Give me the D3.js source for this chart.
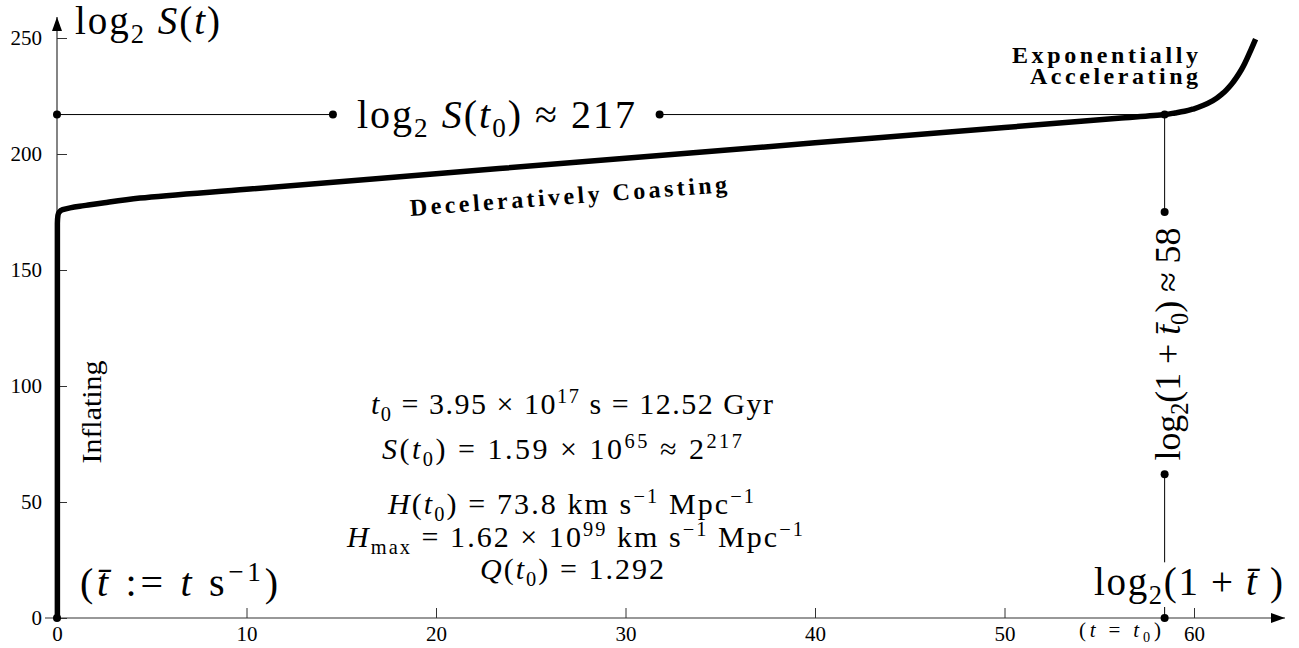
<!DOCTYPE html>
<html>
<head>
<meta charset="utf-8">
<script src="https://cdn.jsdelivr.net/npm/d3@7"></script>
<style>
  body { margin: 0; background: #fff; }
  svg text { font-family: "Liberation Serif", "DejaVu Serif", serif !important; white-space: pre; }
</style>
</head>
<body>
<svg id="chart"></svg>
<script>
// Tick values
const ticksX = [0, 10, 20, 30, 40, 50, 60];
const ticksY = [0, 50, 100, 150, 200, 250];

// log2(1 + t) against log2 S(t)
const curveX = [0.02, 0.02, 0.05, 0.12, 0.3, 0.69, 1.2, 1.74, 2.5, 4.38, 10, 20, 30, 40, 50, 56, 58.45, 59, 59.5, 60, 60.5, 61, 61.5, 62, 62.5, 63, 63.25];
const curveY = [0, 170, 173.6, 175, 176, 176.8, 177.5, 178.1, 179, 181, 184.8, 191.5, 198.2, 204.8, 211.4, 215.4, 217, 217.7, 218.4, 219.5, 221, 223, 226, 230.3, 236.3, 244.8, 249.5];

// Present-day marker and where the guide lines break for their labels
const t0X = 58.45;
const logS0 = 217;
const hBreaks = [14.56, 31.8];
const vBreaks = [175, 62];
const vEnd = 24;

const width = 1299;
const height = 648;

const svg = d3.select('#chart')
    .attr('width', width)
    .attr('height', height);

const x = d3.scaleLinear().domain([0, 64]).range([57, 1269.8]);
const y = d3.scaleLinear().domain([0, 250]).range([618, 38]);

// arrow heads
svg.append('defs').append('marker')
    .attr('id', 'arrow')
    .attr('viewBox', '0 0 14 10')
    .attr('refX', 14).attr('refY', 5)
    .attr('markerWidth', 14).attr('markerHeight', 10)
    .attr('markerUnits', 'userSpaceOnUse')
    .attr('orient', 'auto')
  .append('path')
    .attr('d', 'M0,0 L14,5 L0,10 Z')
    .attr('fill', '#000');

// axes lines
svg.append('line')
    .attr('x1', 45).attr('x2', 1285)
    .attr('y1', y(0)).attr('y2', y(0))
    .attr('stroke', '#333').attr('stroke-width', 1.2)
    .attr('marker-end', 'url(#arrow)');
svg.append('line')
    .attr('x1', x(0)).attr('x2', x(0))
    .attr('y1', y(0)).attr('y2', 17)
    .attr('stroke', '#333').attr('stroke-width', 1.2)
    .attr('marker-end', 'url(#arrow)');

const xAxis = svg.append('g')
    .attr('transform', 'translate(0,' + y(0) + ')')
    .call(d3.axisBottom(x).tickValues(ticksX).tickSize(-10).tickPadding(5));
const yAxis = svg.append('g')
    .attr('transform', 'translate(' + x(0) + ',0)')
    .call(d3.axisLeft(y).tickValues(ticksY).tickSize(-10).tickPadding(15));

[xAxis, yAxis].forEach(a => {
    a.select('.domain').remove();
    a.selectAll('line').attr('stroke', '#333');
    a.selectAll('text')
        .attr('font-size', 21)
        .attr('fill', '#000');
});
xAxis.selectAll('text').attr('dy', '0.85em');

// guide lines
const guide = svg.append('g').attr('stroke', '#000').attr('stroke-width', 1);
guide.append('line')
    .attr('x1', x(0)).attr('x2', x(hBreaks[0]))
    .attr('y1', y(logS0)).attr('y2', y(logS0));
guide.append('line')
    .attr('x1', x(hBreaks[1])).attr('x2', x(t0X))
    .attr('y1', y(logS0)).attr('y2', y(logS0));
guide.append('line')
    .attr('x1', x(t0X)).attr('x2', x(t0X))
    .attr('y1', y(logS0)).attr('y2', y(vBreaks[0]));
guide.append('line')
    .attr('x1', x(t0X)).attr('x2', x(t0X))
    .attr('y1', y(vBreaks[1])).attr('y2', y(vEnd));
guide.append('line')
    .attr('x1', x(t0X)).attr('x2', x(t0X))
    .attr('y1', y(0)).attr('y2', y(0) - 11);

// the curve
const line = d3.line()
    .x(d => x(d[0]))
    .y(d => y(d[1]))
    .curve(d3.curveMonotoneY);

svg.append('path')
    .datum(d3.zip(curveX, curveY))
    .attr('d', line)
    .attr('fill', 'none')
    .attr('stroke', '#000')
    .attr('stroke-width', 5.5)
    .attr('stroke-linejoin', 'round');

// dots
const dots = [
    [0, 0], [0, logS0], [hBreaks[0], logS0], [hBreaks[1], logS0], [t0X, logS0],
    [t0X, vBreaks[0]], [t0X, vBreaks[1]], [t0X, 0]
];
svg.selectAll('circle.dot')
    .data(dots)
    .enter()
    .append('circle')
    .attr('class', 'dot')
    .attr('cx', d => x(d[0]))
    .attr('cy', d => y(d[1]))
    .attr('r', 4)
    .attr('fill', '#000');

// math-ish text made of tspans: r roman, i italic, sub, subi, sup
function math(parent, parts, size, len) {
    const t = parent.append('text').attr('font-size', size).attr('fill', '#000');
    let shift = 0;
    parts.forEach(([s, k]) => {
        const target = k.startsWith('sub') ? 0.22 * size : k.startsWith('sup') ? -0.38 * size : 0;
        const ts = t.append('tspan').text(s).attr('dy', target - shift);
        shift = target;
        if (k.includes('i')) ts.attr('font-style', 'italic');
        if (k.startsWith('sub') || k.startsWith('sup')) ts.attr('font-size', size * 0.68);
    });
    if (len) t.attr('textLength', len).attr('lengthAdjust', 'spacing');
    return t;
}

math(svg, [['log', 'r'], ['2', 'sub'], [' ', 'r'], ['S', 'i'], ['(', 'r'], ['t', 'i'], [')', 'r']], 39, 145)
    .attr('x', 75).attr('y', 34);

math(svg, [['log', 'r'], ['2', 'sub'], [' ', 'r'], ['S', 'i'], ['(', 'r'], ['t', 'i'], ['0', 'sub'], [') ≈ 217', 'r']], 40, 278)
    .attr('x', 496).attr('y', 128).attr('text-anchor', 'middle');

math(svg, [['log', 'r'], ['2', 'sub'], ['(1 + ', 'r'], ['t̄', 'i'], ['0', 'sub'], [') ≈ 58', 'r']], 36, 233)
    .attr('text-anchor', 'middle')
    .attr('transform', 'translate(1180,344) rotate(-90)');

math(svg, [['log', 'r'], ['2', 'sub'], ['(1 + ', 'r'], ['t̄', 'i'], [' )', 'r']], 39, 189)
    .attr('x', 1283).attr('y', 595).attr('text-anchor', 'end');

math(svg, [['(', 'r'], ['t̄', 'i'], [' := ', 'r'], ['t', 'i'], [' s', 'r'], ['−1', 'sup'], [')', 'r']], 40, 198)
    .attr('x', 80).attr('y', 596);

math(svg, [['(', 'r'], ['t', 'i'], [' = ', 'r'], ['t', 'i'], ['0', 'sub'], [')', 'r']], 21, 82)
    .attr('x', 1079).attr('y', 637);

// centre block: parts, baseline, centre x, width
const info = [
    [[['t', 'i'], ['0', 'sub'], [' = 3.95 × 10', 'r'], ['17', 'sup'], [' s = 12.52 Gyr', 'r']], 414, 572, 402],
    [[['S', 'i'], ['(', 'r'], ['t', 'i'], ['0', 'sub'], [') = 1.59 × 10', 'r'], ['65', 'sup'], [' ≈ 2', 'r'], ['217', 'sup']], 459, 562, 360],
    [[['H', 'i'], ['(', 'r'], ['t', 'i'], ['0', 'sub'], [') = 73.8 km s', 'r'], ['−1', 'sup'], [' Mpc', 'r'], ['−1', 'sup']], 514, 571, 366],
    [[['H', 'i'], ['max', 'sub'], [' = 1.62 × 10', 'r'], ['99', 'sup'], [' km s', 'r'], ['−1', 'sup'], [' Mpc', 'r'], ['−1', 'sup']], 547, 575, 456],
    [[['Q', 'i'], ['(', 'r'], ['t', 'i'], ['0', 'sub'], [') = 1.292', 'r']], 579, 572, 184]
];
info.forEach(([parts, yy, cx, len]) => {
    math(svg, parts, 30, len).attr('x', cx).attr('y', yy).attr('text-anchor', 'middle');
});

// era labels
svg.append('text')
    .attr('transform', 'translate(101,412) rotate(-90)')
    .attr('text-anchor', 'middle')
    .attr('font-size', 27)
    .attr('textLength', 103).attr('lengthAdjust', 'spacingAndGlyphs')
    .text('Inflating');

svg.append('text')
    .attr('transform', 'translate(569,204) rotate(-4.3)')
    .attr('text-anchor', 'middle')
    .attr('font-size', 24).attr('font-weight', 'bold')
    .attr('textLength', 318).attr('lengthAdjust', 'spacing')
    .text('Deceleratively Coasting');

svg.append('text')
    .attr('x', 1198).attr('y', 63)
    .attr('text-anchor', 'end')
    .attr('font-size', 24).attr('font-weight', 'bold')
    .attr('textLength', 186).attr('lengthAdjust', 'spacing')
    .text('Exponentially');
svg.append('text')
    .attr('x', 1198).attr('y', 84)
    .attr('text-anchor', 'end')
    .attr('font-size', 24).attr('font-weight', 'bold')
    .attr('textLength', 168).attr('lengthAdjust', 'spacing')
    .text('Accelerating');
</script>
</body>
</html>
